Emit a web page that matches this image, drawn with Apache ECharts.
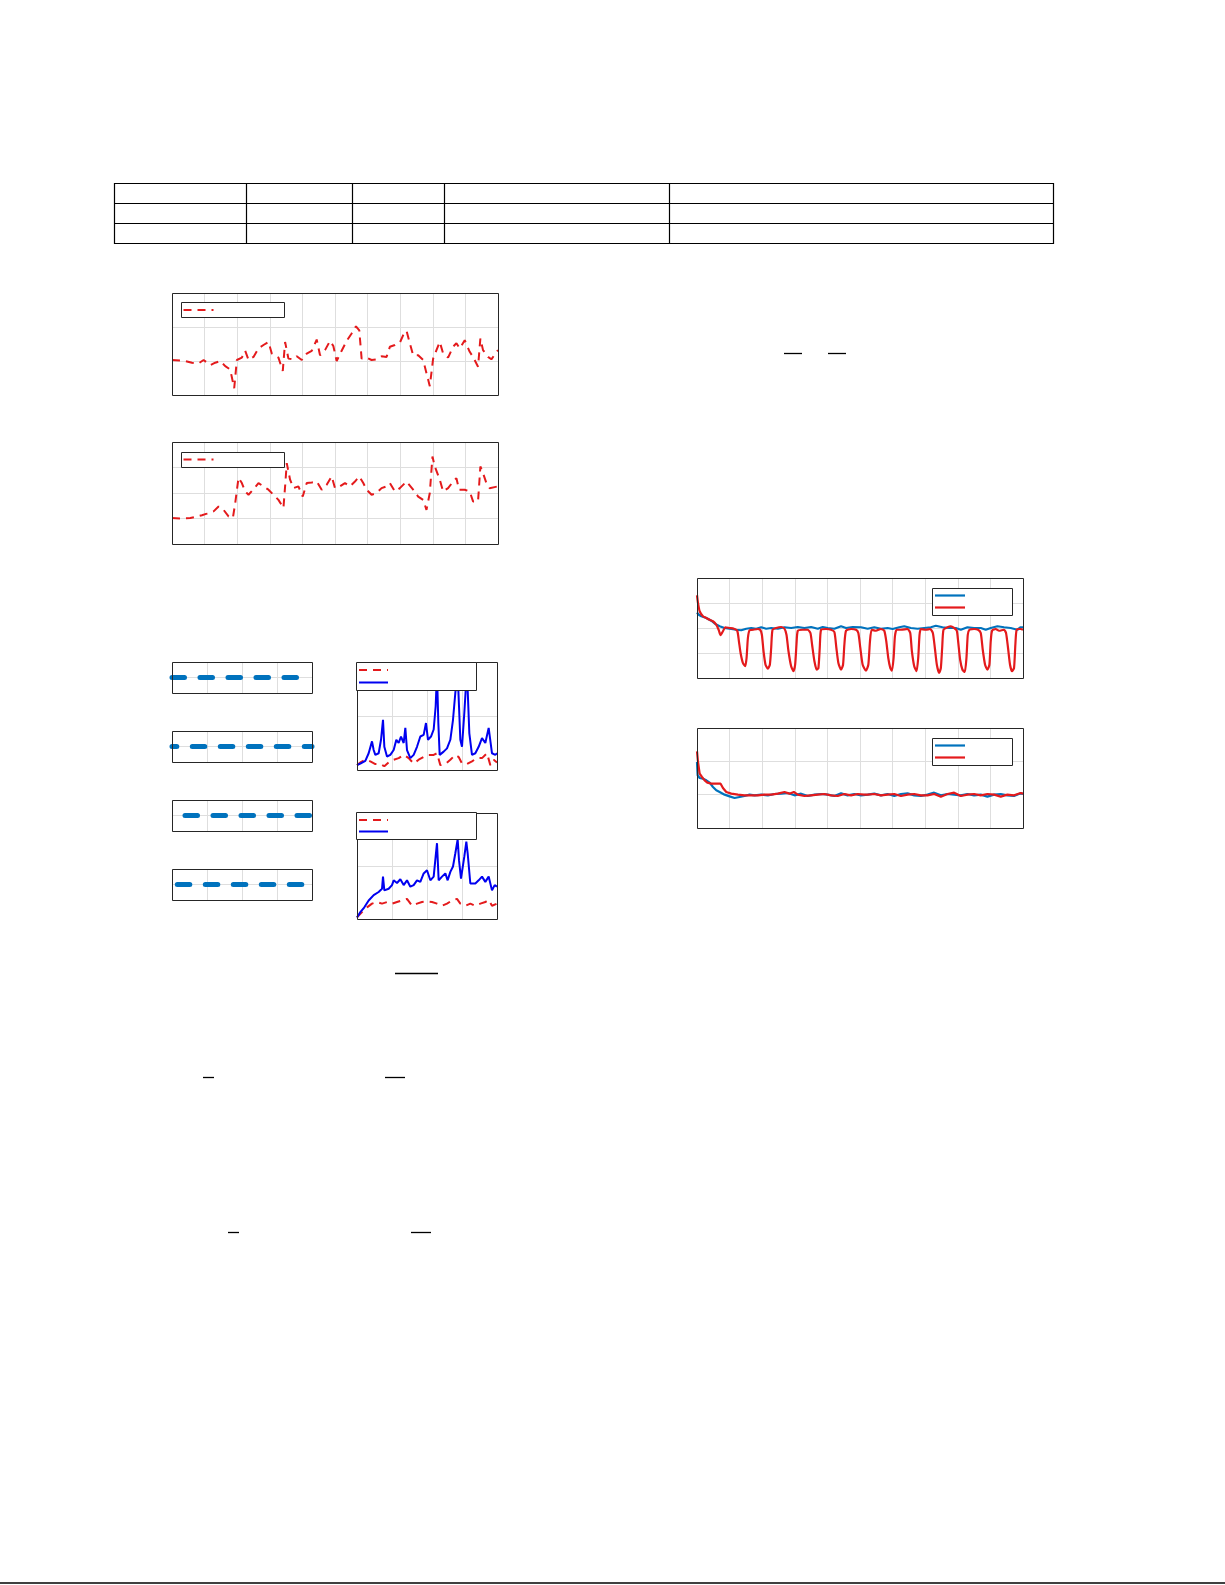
<!DOCTYPE html>
<html><head><meta charset="utf-8">
<script src="https://cdn.jsdelivr.net/npm/echarts@6/dist/echarts.min.js"></script>
<style>html,body{margin:0;padding:0;background:#fff}#c{width:1225px;height:1585px}</style>
</head><body><div id="c"></div>
<script>
// ---------- data ----------
// Panel 1 (top-left, red dashed)
const p1X = [0,40,60,80,95,115,130,145,160,175,187,195,210,220,230,245,260,275,290,300,320,333,340,350,365,375,390,405,420,435,445,460,475,485,495,510,525,540,553,563,570,585,600,615,630,645,655,670,685,695,705,715,725,740,755,765,775,785,795,805,815,830,845,855,865,880,895,905,920,927,935,950,960,980];
const p1Y = [1.03,1.0,0.95,0.93,1.03,0.88,0.95,1.0,0.85,0.75,0.2,1.03,1.1,1.3,1.03,1.12,1.37,1.47,1.56,1.22,1.1,0.71,1.56,1.07,1.05,1.14,1.03,1.22,1.3,1.63,1.17,1.32,1.59,1.44,1.0,1.3,1.59,1.81,2.02,1.9,1.07,1.1,1.03,1.05,1.14,1.12,1.42,1.47,1.54,1.76,1.89,1.52,1.17,1.17,1.03,0.64,0.26,1.07,1.32,1.56,1.22,1.1,1.42,1.52,1.37,1.61,1.27,1.12,0.83,1.66,1.32,1.12,1.05,1.32];
// Panel 2 (second-left, red dashed)
const p2X = [0,25,55,75,90,105,125,140,155,170,183,190,200,210,220,230,245,260,275,290,305,320,335,340,345,355,365,380,393,405,420,435,450,465,480,490,505,520,535,550,563,575,585,600,615,630,645,655,670,685,705,725,740,755,765,775,783,790,805,815,830,845,855,863,880,895,905,920,927,935,945,955,980];
const p2Y = [1.02,1.0,1.02,1.08,1.13,1.19,1.28,1.47,1.34,1.08,1.02,1.6,2.6,2.39,2.06,1.93,2.15,2.39,2.26,2.13,1.93,1.73,1.41,2.26,3.17,2.52,2.19,2.26,1.86,2.39,2.41,2.45,2.13,2.32,2.65,2.19,2.26,2.39,2.26,2.45,2.65,2.39,2.13,1.93,2.0,2.19,2.26,2.39,2.06,2.19,2.45,2.13,1.86,1.73,1.34,2.0,3.43,3.04,2.52,2.06,2.19,2.45,2.58,2.13,2.13,2.06,1.67,1.67,3.04,2.78,2.39,2.19,2.26];
// Four small panels: constant level
const smallX = [0, 4];
const smallLevels = [1, 1, 1, 1];
// Panel e (upper right-small): blue solid + red dashed
const eBlueX = [0,10,25,35,45,50,55,65,72,78,82,90,100,110,118,125,132,140,145,150,160,170,180,190,200,207,213,222,230,236,240,244,248,260,270,280,288,295,302,306,310,315,322,328,332,337,345,355,365,375,385,395,405,415,420];
const eBlueY = [0.09,0.12,0.17,0.31,0.53,0.37,0.28,0.31,0.56,0.93,0.43,0.25,0.28,0.37,0.56,0.5,0.62,0.5,0.78,0.37,0.22,0.28,0.43,0.62,0.65,0.87,0.56,0.62,0.75,1.18,1.8,0.87,0.28,0.34,0.4,0.56,0.93,1.43,1.8,1.18,0.56,0.43,1.06,1.68,1.49,0.68,0.28,0.31,0.43,0.59,0.5,0.78,0.31,0.28,0.31];
const eRedX = [0,10,25,40,55,70,82,95,110,125,140,155,170,185,200,215,230,240,250,265,280,295,305,315,330,345,360,375,390,400,410,420];
const eRedY = [0.09,0.14,0.19,0.16,0.11,0.11,0.07,0.14,0.19,0.22,0.28,0.22,0.12,0.19,0.24,0.28,0.28,0.31,0.09,0.11,0.19,0.28,0.24,0.12,0.11,0.16,0.22,0.22,0.31,0.09,0.19,0.14];
// Panel f (lower right-small)
const fBlueX = [0,10,22,35,50,65,75,78,82,95,105,110,120,130,140,150,160,170,180,190,200,210,220,230,236,240,245,255,265,272,280,288,295,302,306,312,322,328,332,340,355,365,375,385,395,405,413,420];
const fBlueY = [0.03,0.13,0.22,0.35,0.45,0.51,0.57,0.8,0.54,0.57,0.64,0.73,0.68,0.75,0.64,0.73,0.61,0.64,0.73,0.7,0.86,0.92,0.73,0.8,1.18,1.43,0.73,0.8,0.86,0.73,0.89,0.99,1.24,1.5,1.11,0.76,1.18,1.46,1.24,0.67,0.67,0.73,0.8,0.7,0.8,0.54,0.64,0.61];
const fRedX = [0,15,30,45,60,75,90,105,120,135,150,165,180,195,210,225,240,255,270,285,300,310,325,340,355,370,385,395,405,420];
const fRedY = [0.03,0.13,0.22,0.29,0.32,0.29,0.32,0.29,0.32,0.35,0.38,0.25,0.29,0.32,0.33,0.32,0.29,0.25,0.29,0.35,0.38,0.29,0.25,0.29,0.25,0.29,0.32,0.36,0.25,0.29];
// Panel g (right, upper wide)
const gBlueX = [0,5,13,28,43,55,68,83,98,118,133,148,163,178,193,208,223,243,263,283,303,323,343,363,378,393,413,433,448,468,493,513,533,553,573,588,608,623,643,663,683,703,718,738,758,778,793,813,833,853,868,883,903,923,943,963,973,980];
const gBlueY = [2.62,2.53,2.47,2.4,2.29,2.16,2.07,2.0,1.97,1.93,1.91,1.97,2.0,1.97,2.03,1.97,2.0,1.97,2.03,2.0,2.04,2.0,2.04,1.97,2.04,2.0,1.97,2.07,2.0,2.04,2.03,1.97,2.03,1.97,2.0,1.96,2.03,2.07,2.0,1.97,2.0,2.03,2.09,2.03,2.0,2.0,1.93,2.03,2.0,2.0,1.93,2.0,2.07,2.03,2.0,1.93,2.03,2.03];
const gRedX = [0,3,8,18,28,38,48,58,65,71,78,85,98,111,121,126,131,138,145,149,153,158,168,183,190,195,200,206,213,219,223,227,238,253,263,269,275,283,290,295,299,303,318,333,341,346,353,360,365,369,373,388,403,413,419,425,433,439,443,448,463,478,485,491,498,508,515,520,525,538,553,563,569,575,581,586,591,595,600,613,633,641,646,653,660,665,669,673,688,701,709,715,721,728,733,737,741,753,763,773,781,785,791,798,805,810,814,819,833,845,853,859,866,873,879,883,887,898,908,923,929,935,941,947,953,957,961,973,980];
const gRedY = [3.31,3.0,2.67,2.47,2.4,2.33,2.27,2.13,1.93,1.71,1.87,2.03,2.0,1.97,1.89,1.47,1.0,0.6,0.47,0.8,1.6,1.91,1.93,1.96,1.93,1.73,1.07,0.53,0.37,0.53,1.2,1.93,2.0,2.04,1.97,1.73,1.07,0.47,0.27,0.53,1.33,1.89,1.93,1.93,1.8,1.33,0.67,0.33,0.4,1.2,1.93,1.96,1.93,1.84,1.2,0.6,0.33,0.53,1.33,1.89,1.96,1.93,1.8,1.2,0.53,0.29,0.53,1.47,1.93,1.89,1.96,1.89,1.47,0.8,0.4,0.29,0.8,1.67,1.93,1.93,1.96,1.8,1.07,0.47,0.27,0.8,1.73,1.96,1.93,1.96,1.8,1.2,0.53,0.2,0.4,1.2,1.93,2.03,2.07,2.0,1.89,1.47,0.73,0.33,0.24,0.8,1.73,1.93,1.96,1.93,1.8,1.13,0.53,0.33,0.53,1.47,1.89,1.96,1.89,1.93,1.8,1.2,0.53,0.27,0.4,1.33,1.93,1.96,1.93];
// Panel h (right, lower wide)
const hBlueX = [0,2,8,18,28,38,48,58,68,83,98,113,128,143,158,173,193,213,233,253,273,293,313,333,353,373,393,413,433,453,473,493,513,533,553,573,593,613,633,653,673,693,713,733,753,773,793,813,833,853,873,893,913,933,953,973,980];
const hBlueY = [1.98,1.58,1.5,1.48,1.43,1.36,1.23,1.13,1.08,1.0,0.95,0.9,0.93,0.96,1.0,0.98,1.0,0.98,1.02,1.03,1.05,0.98,1.03,0.96,1.0,1.02,1.0,0.96,1.04,0.98,1.02,0.98,1.0,1.03,0.98,1.02,0.96,1.02,1.04,0.98,0.96,1.0,1.06,0.98,1.02,1.0,0.98,1.02,0.98,1.0,0.94,1.0,1.02,0.98,0.96,1.04,1.02];
const hRedX = [0,3,8,15,23,31,43,58,71,78,88,103,123,143,163,183,203,223,243,263,278,291,303,323,343,363,383,403,423,443,463,483,503,513,533,553,573,593,613,633,653,673,693,713,733,753,773,793,813,833,853,873,893,913,933,953,973,980];
const hRedY = [2.3,1.98,1.63,1.53,1.43,1.36,1.33,1.33,1.33,1.2,1.08,1.03,1.0,0.98,0.98,0.98,1.0,1.0,1.03,1.08,1.03,1.08,1.0,0.96,0.98,1.0,1.02,0.98,0.96,1.02,0.98,1.02,1.0,1.0,1.02,0.98,1.0,1.02,0.96,1.0,1.02,0.98,0.98,1.02,0.94,1.02,1.06,0.96,1.0,1.02,0.98,1.02,1.0,0.94,1.0,0.98,1.05,1.03];

// ---------- build ----------
const zip = (xs, ys) => xs.map((x, i) => [x, ys[i]]);
const BOX = '#262626', GRIDC = '#dedede';
const RED = '#e41a1c', BLUE = '#0000f0', MBLUE = '#0072bd';
const grids = [], xAxes = [], yAxes = [], series = [];
const G = [];

function addPanel(box, xr, yr) {
  const gi = grids.length;
  grids.push({left: box[0], top: box[1], width: box[2], height: box[3], show: false});
  // crisp frame drawn on top of the plot
  G.push({type: 'rect', z: 55, shape: {x: box[0] + 0.5, y: box[1] + 0.5, width: box[2], height: box[3]},
    style: {fill: null, stroke: BOX, lineWidth: 1}});
  const base = {type: 'value', gridIndex: gi, axisLabel: {show: false}, axisLine: {show: false},
    axisTick: {show: false}};
  xAxes.push(Object.assign({}, base, {min: xr[0], max: xr[1], interval: xr[2], position: 'bottom',
    splitLine: {show: true, lineStyle: {color: GRIDC, width: 1}}}));
  yAxes.push(Object.assign({}, base, {min: yr[0], max: yr[1], interval: yr[2], position: 'left',
    splitLine: {show: true, lineStyle: {color: GRIDC, width: 1}}}));
  return {x: xAxes.length - 1, y: yAxes.length - 1};
}
function addLine(ax, data, ls, extra) {
  series.push(Object.assign({type: 'line', xAxisIndex: ax.x, yAxisIndex: ax.y, data: data,
    showSymbol: false, symbol: 'none', lineStyle: ls, z: 3}, extra || {}));
}

// Panel 1 & 2
const a1 = addPanel([172, 293, 326, 102], [0, 980, 98], [0, 3, 1]);
addLine(a1, zip(p1X, p1Y), {color: RED, width: 2, type: [8, 6]});
const a2 = addPanel([172, 442, 326, 102], [0, 980, 98], [0, 4, 1]);
addLine(a2, zip(p2X, p2Y), {color: RED, width: 2, type: [8, 6]});

// Small panels
const smallTops = [662, 731, 800, 869];
const smallOffsets = [0, 7.7, 15, 22.7];
smallTops.forEach((t, i) => {
  const ax = addPanel([172, t, 140, 31], [0, 4, 1], [0, 2, 1]);
  addLine(ax, smallX.map(x => [x, smallLevels[i]]),
    {color: MBLUE, width: 5, type: [12.5, 15.5], dashOffset: smallOffsets[i], cap: 'round'}, {clip: false});
});

// Panel e & f
const ae = addPanel([357, 662, 140, 108], [0, 420, 105], [0, 2, 1]);
addLine(ae, zip(eRedX, eRedY), {color: RED, width: 2, type: [8, 6]});
addLine(ae, zip(eBlueX, eBlueY), {color: BLUE, width: 2});
const af = addPanel([357, 813, 140, 106], [0, 420, 105], [0, 2, 1]);
addLine(af, zip(fRedX, fRedY), {color: RED, width: 2, type: [8, 6]});
addLine(af, zip(fBlueX, fBlueY), {color: BLUE, width: 2});

// Panel g & h
const ag = addPanel([697, 578, 326, 100], [0, 980, 98], [0, 4, 1]);
addLine(ag, zip(gBlueX, gBlueY), {color: MBLUE, width: 2.2});
addLine(ag, zip(gRedX, gRedY), {color: RED, width: 2.2}, {smooth: 0.2});
const ah = addPanel([697, 728, 326, 100], [0, 980, 98], [0, 3, 1]);
addLine(ah, zip(hBlueX, hBlueY), {color: MBLUE, width: 2.2});
addLine(ah, zip(hRedX, hRedY), {color: RED, width: 2.2});

// ---------- decorations (table, legends, rules) ----------
function hline(x1, x2, y, w, color, dash, z) {
  G.push({type: 'line', z: z || 50, shape: {x1: x1, y1: y, x2: x2, y2: y},
    style: {stroke: color || '#000', lineWidth: w || 1, lineDash: dash || null}});
}
function vline(x, y1, y2, w) {
  G.push({type: 'line', z: 50, shape: {x1: x, y1: y1, x2: x, y2: y2}, style: {stroke: '#000', lineWidth: w || 1}});
}
// table
G.push({type: 'rect', z: 50, shape: {x: 114.5, y: 183.5, width: 939, height: 60}, style: {fill: null, stroke: '#000', lineWidth: 1.2}});
hline(114.5, 1053.5, 203.5, 1.2);
hline(114.5, 1053.5, 223.5, 1.2);
[246.5, 352.5, 444.5, 669.5].forEach(x => vline(x, 183.5, 243.5, 1.2));
// fraction bars
hline(784, 802, 353.5, 1.3);
hline(828, 846, 353.5, 1.3);
hline(395, 438, 973.5, 1.3);
hline(203, 214, 1077.5, 1.3);
hline(385, 405, 1077.5, 1.3);
hline(228, 239, 1232.5, 1.3);
hline(411, 431, 1232.5, 1.3);
// bottom rule
hline(0, 1225, 1583, 1.5);
// legends
function legend(x1, y1, x2, y2, items) {
  G.push({type: 'rect', z: 60, shape: {x: x1, y: y1, width: x2 - x1, height: y2 - y1},
    style: {fill: '#fff', stroke: BOX, lineWidth: 1}});
  items.forEach(it => hline(it.x1, it.x2, it.y, it.w, it.c, it.d, 61));
}
legend(181.5, 302.5, 284.5, 317.5, [{x1: 183.5, x2: 213.5, y: 310, w: 2, c: RED, d: [8, 6]}]);
legend(181.5, 452.5, 284.5, 467.5, [{x1: 183.5, x2: 213.5, y: 459.5, w: 2, c: RED, d: [8, 6]}]);
legend(356.5, 662.5, 476.5, 690.5, [{x1: 359, x2: 388, y: 670, w: 2, c: RED, d: [8, 6]},
                                   {x1: 359, x2: 388, y: 682.5, w: 2, c: BLUE}]);
legend(356.5, 812.5, 476.5, 839.5, [{x1: 359, x2: 388, y: 820, w: 2, c: RED, d: [8, 6]},
                                   {x1: 359, x2: 388, y: 831.5, w: 2, c: BLUE}]);
legend(932.5, 588.5, 1012.5, 615.5, [{x1: 935, x2: 965, y: 595.5, w: 2.2, c: MBLUE},
                                    {x1: 935, x2: 965, y: 607.5, w: 2.2, c: RED}]);
legend(932.5, 738.5, 1012.5, 765.5, [{x1: 935, x2: 965, y: 745.5, w: 2.2, c: MBLUE},
                                    {x1: 935, x2: 965, y: 757.5, w: 2.2, c: RED}]);

const chart = echarts.init(document.getElementById('c'), null, {renderer: 'canvas'});
chart.setOption({
  animation: false,
  backgroundColor: '#fff',
  grid: grids, xAxis: xAxes, yAxis: yAxes, series: series,
  graphic: {elements: G}
});
</script>
</body></html>
